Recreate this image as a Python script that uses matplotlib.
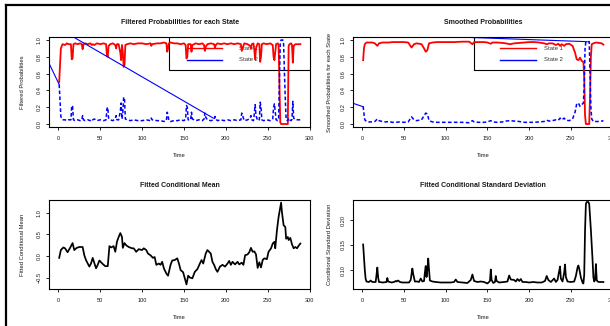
import matplotlib
matplotlib.use("Agg")
import matplotlib.pyplot as plt
from matplotlib.lines import Line2D
from matplotlib.patches import Rectangle

plt.rcParams['font.family'] = ['Liberation Sans', 'DejaVu Sans']

# ---------------- data ----------------
state_labels = ["State 1", "State 2"]
titles = ["Filtered Probabilities for each State", "Smoothed Probabilities",
          "Fitted Conditional Mean", "Fitted Conditional Standard Deviation"]
ylabels = ["Filtered Probabilities", "Smoothed Probabilities for each State",
           "Fitted Conditional Mean", "Conditional Standard Deviation"]
xticks = [0, 50, 100, 150, 200, 250, 300]
prob_yticks = [0.0, 0.2, 0.4, 0.6, 0.8, 1.0]
mean_yticks = [-0.5, 0.0, 0.5, 1.0]
sd_yticks = [0.10, 0.15, 0.20]

filt_t = [
    1, 3, 5, 8, 10, 12, 14, 15, 16, 17,
    18, 20, 23, 26, 28, 29, 30, 32, 35, 38,
    40, 41, 43, 46, 50, 54, 57, 58, 59, 60,
    62, 65, 68, 69, 70, 72, 74, 75, 76, 77,
    78, 79, 80, 82, 86, 90, 95, 100, 105, 110,
    111, 112, 118, 122, 126, 129, 130, 131, 132, 134,
    138, 142, 146, 150, 152, 153, 154, 155, 158, 159,
    160, 164, 168, 172, 174, 175, 176, 178, 182, 186,
    187, 188, 190, 194, 198, 202, 206, 210, 214, 218,
    219, 220, 222, 226, 229, 230, 231, 233, 234, 235,
    236, 238, 240, 241, 242, 243, 245, 249, 253, 256,
    257, 258, 259, 260, 262, 263, 264, 265, 266, 268,
    269, 270, 271, 272, 274, 275, 276, 278, 279, 280,
    281, 283, 286, 289]
filt_s1 = [
    0.50, 0.90, 0.95, 0.94, 0.96, 0.95, 0.95, 0.95, 0.77, 0.78,
    0.95, 0.96, 0.95, 0.96, 0.95, 0.89, 0.95, 0.96, 0.95, 0.96,
    0.94, 0.95, 0.94, 0.96, 0.95, 0.96, 0.95, 0.82, 0.80, 0.93,
    0.95, 0.96, 0.94, 0.90, 0.95, 0.95, 0.85, 0.76, 0.94, 0.86,
    0.68, 0.70, 0.94, 0.95, 0.96, 0.95, 0.96, 0.96, 0.95, 0.96,
    0.93, 0.95, 0.96, 0.96, 0.97, 0.96, 0.86, 0.90, 0.96, 0.97,
    0.96, 0.96, 0.95, 0.96, 0.94, 0.78, 0.80, 0.95, 0.95, 0.86,
    0.94, 0.96, 0.95, 0.96, 0.94, 0.87, 0.92, 0.95, 0.96, 0.95,
    0.91, 0.94, 0.96, 0.95, 0.96, 0.95, 0.96, 0.95, 0.96, 0.95,
    0.87, 0.90, 0.96, 0.95, 0.93, 0.90, 0.95, 0.96, 0.88, 0.77,
    0.90, 0.96, 0.95, 0.74, 0.80, 0.95, 0.96, 0.95, 0.96, 0.94,
    0.80, 0.76, 0.85, 0.95, 0.96, 0.94, 0.50, 0.02, 0.00, 0.00,
    0.00, 0.00, 0.00, 0.00, 0.00, 0.93, 0.95, 0.96, 0.94, 0.73,
    0.93, 0.95, 0.95, 0.95]
filt_s2 = [
    0.47, 0.09, 0.05, 0.05, 0.04, 0.05, 0.05, 0.05, 0.22, 0.21,
    0.05, 0.04, 0.05, 0.04, 0.05, 0.10, 0.05, 0.04, 0.05, 0.04,
    0.06, 0.05, 0.06, 0.04, 0.05, 0.04, 0.05, 0.18, 0.20, 0.07,
    0.05, 0.04, 0.06, 0.10, 0.05, 0.05, 0.15, 0.25, 0.06, 0.14,
    0.32, 0.30, 0.06, 0.05, 0.04, 0.05, 0.04, 0.04, 0.05, 0.04,
    0.07, 0.05, 0.04, 0.04, 0.03, 0.04, 0.14, 0.10, 0.04, 0.03,
    0.04, 0.04, 0.05, 0.04, 0.06, 0.22, 0.20, 0.05, 0.05, 0.14,
    0.06, 0.04, 0.05, 0.04, 0.06, 0.13, 0.08, 0.05, 0.04, 0.05,
    0.09, 0.06, 0.04, 0.05, 0.04, 0.05, 0.04, 0.05, 0.04, 0.05,
    0.13, 0.10, 0.04, 0.05, 0.07, 0.10, 0.05, 0.04, 0.12, 0.23,
    0.10, 0.04, 0.05, 0.26, 0.20, 0.05, 0.04, 0.05, 0.04, 0.06,
    0.20, 0.24, 0.15, 0.05, 0.04, 0.06, 0.50, 0.97, 1.00, 1.00,
    0.95, 0.60, 0.30, 0.05, 0.04, 0.07, 0.05, 0.04, 0.06, 0.27,
    0.07, 0.05, 0.05, 0.05]
# stray solid segments in the filtered panel
filt_extra_a_t = [-11, 1]
filt_extra_a_v = [0.72, 0.47]
filt_extra_b_t = [12, 185]
filt_extra_b_v = [1.07, 0.07]

sm_t = [
    1, 2, 3, 5, 8, 12, 15, 18, 20, 24,
    28, 32, 36, 40, 45, 50, 55, 59, 62, 65,
    68, 71, 74, 76, 78, 80, 84, 90, 100, 110,
    120, 128, 132, 134, 140, 146, 150, 154, 156, 162,
    168, 172, 177, 182, 188, 194, 200, 206, 212, 218,
    221, 224, 228, 232, 235, 237, 239, 242, 244, 248,
    252, 255, 257, 259, 261, 263, 265, 266, 267, 268,
    272, 273, 274, 275, 277, 280, 284, 287, 289]
sm_s1 = [
    0.76, 0.90, 0.95, 0.97, 0.97, 0.97, 0.96, 0.93, 0.96, 0.97,
    0.97, 0.97, 0.975, 0.975, 0.975, 0.975, 0.97, 0.91, 0.95, 0.96,
    0.955, 0.95, 0.90, 0.86, 0.88, 0.96, 0.97, 0.975, 0.975, 0.975,
    0.98, 0.98, 0.95, 0.975, 0.975, 0.975, 0.97, 0.955, 0.97, 0.97,
    0.965, 0.96, 0.95, 0.96, 0.965, 0.97, 0.975, 0.975, 0.97, 0.96,
    0.95, 0.96, 0.96, 0.94, 0.955, 0.93, 0.95, 0.93, 0.95, 0.955,
    0.93, 0.85, 0.77, 0.76, 0.79, 0.75, 0.74, 0.55, 0.10, 0.00,
    0.00, 0.35, 0.80, 0.95, 0.96, 0.97, 0.965, 0.96, 0.945]
sm_s2 = [
    0.21, 0.12, 0.05, 0.03, 0.025, 0.025, 0.03, 0.06, 0.04, 0.03,
    0.025, 0.03, 0.02, 0.02, 0.025, 0.02, 0.025, 0.085, 0.05, 0.04,
    0.045, 0.05, 0.10, 0.13, 0.12, 0.04, 0.025, 0.02, 0.02, 0.02,
    0.02, 0.015, 0.04, 0.025, 0.02, 0.02, 0.025, 0.04, 0.025, 0.02,
    0.025, 0.035, 0.04, 0.035, 0.03, 0.02, 0.02, 0.02, 0.025, 0.03,
    0.045, 0.035, 0.04, 0.05, 0.045, 0.07, 0.05, 0.07, 0.045, 0.04,
    0.06, 0.14, 0.24, 0.25, 0.21, 0.23, 0.25, 0.45, 0.90, 0.98,
    0.98, 0.60, 0.20, 0.06, 0.03, 0.03, 0.03, 0.035, 0.04]
sm_extra_a_t = [-11, 1]
sm_extra_a_v = [0.246, 0.206]
sm_extra_b_t = [130, 269.5]
sm_extra_b_v = [1.03, 0.98]

mean_t = [
    1, 3, 6, 8, 11, 14, 17, 19, 22, 25,
    29, 31, 33, 37, 39, 41, 45, 47, 49, 53,
    56, 59, 61, 63, 66, 68, 70, 72, 74, 76,
    77, 79, 81, 84, 88, 90, 93, 96, 100, 102,
    105, 107, 110, 113, 115, 117, 120, 122, 124, 126,
    129, 131, 134, 136, 139, 142, 144, 146, 149, 151,
    153, 155, 157, 160, 163, 166, 169, 171, 173, 176,
    178, 180, 182, 184, 186, 188, 190, 193, 196, 199,
    202, 204, 206, 208, 211, 214, 216, 219, 221, 223,
    226, 228, 230, 232, 234, 236, 238, 240, 242, 244,
    246, 249, 251, 254, 256, 258, 259, 261, 263, 264,
    266, 267, 269, 271, 272, 274, 275, 277, 279, 281,
    283, 285, 287, 289]
mean_v = [
    -0.04, 0.14, 0.20, 0.18, 0.09, 0.19, 0.30, 0.14, 0.19, 0.21,
    0.21, 0.02, -0.09, -0.24, -0.17, -0.04, -0.28, -0.20, -0.10, -0.18,
    -0.23, -0.23, 0.23, 0.20, 0.23, 0.10, 0.33, 0.44, 0.53, 0.44,
    0.19, 0.30, 0.25, 0.21, 0.18, 0.18, 0.10, 0.16, 0.14, 0.18,
    0.14, 0.06, 0.02, -0.04, -0.02, -0.20, -0.17, -0.20, -0.13, -0.28,
    -0.40, -0.45, -0.20, -0.10, -0.09, -0.05, -0.17, -0.32, -0.37, -0.51,
    -0.65, -0.45, -0.49, -0.51, -0.36, -0.30, -0.17, -0.09, -0.17, 0.06,
    0.14, 0.10, 0.06, -0.13, -0.20, -0.30, -0.36, -0.24, -0.20, -0.24,
    -0.17, -0.11, -0.20, -0.13, -0.19, -0.13, -0.19, -0.15, -0.20, 0.02,
    0.04, 0.09, 0.19, 0.10, 0.11, 0.04, -0.27, -0.14, -0.26, -0.09,
    -0.05, -0.07, 0.10, 0.18, 0.29, 0.33, 0.18, 0.59, 0.90, 1.01,
    1.23, 1.01, 0.71, 0.67, 0.40, 0.44, 0.37, 0.42, 0.27, 0.18,
    0.21, 0.18, 0.24, 0.29]

sd_t = [
    1, 2, 3, 4, 5, 8, 10, 12, 16, 17,
    18, 19, 20, 25, 29, 30, 31, 35, 38, 40,
    41, 43, 45, 48, 52, 56, 58, 60, 61, 63,
    66, 68, 70, 72, 74, 75, 76, 77, 78, 79,
    80, 81, 84, 88, 94, 100, 106, 110, 112, 114,
    120, 126, 130, 132, 134, 138, 142, 146, 150, 153,
    154, 155, 157, 159, 160, 161, 164, 170, 174, 176,
    178, 182, 184, 186, 188, 190, 192, 196, 200, 205,
    210, 215, 219, 221, 223, 226, 230, 232, 234, 236,
    237, 238, 240, 242, 243, 244, 246, 250, 254, 256,
    258, 259, 260, 262, 264, 265, 266, 267, 268, 269,
    271, 272, 274, 276, 277, 278, 279, 280, 281, 282,
    284, 287, 289]
sd_v = [
    0.151, 0.125, 0.100, 0.082, 0.077, 0.076, 0.079, 0.076, 0.076, 0.090,
    0.105, 0.085, 0.076, 0.075, 0.076, 0.084, 0.077, 0.075, 0.076, 0.078,
    0.077, 0.079, 0.076, 0.075, 0.075, 0.075, 0.080, 0.103, 0.092, 0.077,
    0.077, 0.076, 0.083, 0.077, 0.078, 0.095, 0.108, 0.086, 0.100, 0.123,
    0.100, 0.079, 0.077, 0.076, 0.075, 0.075, 0.075, 0.076, 0.081, 0.076,
    0.075, 0.074, 0.080, 0.091, 0.078, 0.076, 0.077, 0.076, 0.073, 0.078,
    0.101, 0.080, 0.074, 0.076, 0.088, 0.078, 0.075, 0.076, 0.077, 0.089,
    0.081, 0.080, 0.077, 0.082, 0.078, 0.082, 0.076, 0.076, 0.075, 0.076,
    0.075, 0.075, 0.078, 0.088, 0.080, 0.076, 0.083, 0.076, 0.080, 0.098,
    0.107, 0.083, 0.077, 0.095, 0.111, 0.086, 0.077, 0.076, 0.077, 0.088,
    0.105, 0.109, 0.103, 0.085, 0.075, 0.073, 0.090, 0.180, 0.232, 0.236,
    0.236, 0.232, 0.180, 0.120, 0.085, 0.077, 0.080, 0.112, 0.080, 0.077,
    0.076, 0.076, 0.076]

# ---------------- layout ----------------
W, H = 610, 326
fig = plt.figure(figsize=(W / 100, H / 100), dpi=100)
fig.patch.set_facecolor('white')


def rect(l, t, r, b):
    return [l / W, 1 - b / H, (r - l) / W, (b - t) / H]


XLIM = (-10.8, 300.5)
TXT = '#1a1a1a'
FS = 4.2
ax1 = fig.add_axes(rect(49.3, 37.3, 310, 126.7))
ax2 = fig.add_axes(rect(353.3, 37.3, 613, 126.7))
ax3 = fig.add_axes(rect(49.3, 200, 310, 289))
ax4 = fig.add_axes(rect(353.3, 200, 613, 289))


def style(ax, title, ylabel, yticks, ylim, ylab_off):
    ax.set_xlim(*XLIM)
    ax.set_ylim(*ylim)
    ax.set_xticks(xticks)
    ax.set_yticks(yticks)
    for s in ax.spines.values():
        s.set_linewidth(0.8)
        s.set_color('black')
        s.set_zorder(6)
    ax.tick_params(direction='out', length=2.4, width=0.6, labelsize=4.1,
                   labelcolor=TXT, pad=4.2)
    ax.tick_params(axis='y', labelrotation=90, pad=3.2)
    for lab in ax.get_yticklabels():
        lab.set_va('center')
    ax.text(0.5, 1.168, title, transform=ax.transAxes, ha='center',
            va='center', fontsize=5.0, fontweight='bold', color=TXT)
    ax.set_xlabel('Time', fontsize=FS, color=TXT)
    ax.xaxis.set_label_coords(0.5, -0.325)
    ax.xaxis.label.set_va('center')
    ax.set_ylabel(ylabel, fontsize=FS, color=TXT)
    ax.yaxis.set_label_coords(ylab_off, 0.5)
    ax.yaxis.label.set_va('center')


def legend_box(ax, x0, xl0, xl1, xt, ybot, rows):
    ax.add_patch(Rectangle((x0, ybot), 1.2 - x0, 1.2 - ybot,
                           transform=ax.transAxes, fill=False,
                           edgecolor='black', linewidth=0.8, zorder=1,
                           clip_on=True))
    for (lab, col), yy in zip(zip(state_labels, ['#ff0000', '#0000ff']), rows):
        ax.add_line(Line2D([xl0, xl1], [yy, yy], transform=ax.transAxes,
                           color=col, linewidth=1.0, zorder=1))
        ax.text(xt, yy, lab, transform=ax.transAxes, fontsize=FS,
                color='#333333', va='center', ha='left', zorder=1)


DASH = (0, (2.4, 1.5))

# Panel 1: filtered probabilities
style(ax1, titles[0], ylabels[0], prob_yticks, (-0.032, 1.032), -0.101)
legend_box(ax1, 0.460, 0.527, 0.661, 0.728, 0.631, [0.875, 0.751])
ax1.plot(filt_t, filt_s1, color='#ff0000', lw=1.3, zorder=3)
ax1.plot(filt_t, filt_s2, color='#0000ff', lw=1.1, ls=DASH, zorder=4)
ax1.plot(filt_extra_a_t, filt_extra_a_v, color='#0000ff', lw=0.8, zorder=4)
ax1.plot(filt_extra_b_t, filt_extra_b_v, color='#0000ff', lw=0.8, zorder=4)

# Panel 2: smoothed probabilities
style(ax2, titles[1], ylabels[1], prob_yticks, (-0.032, 1.032), -0.090)
legend_box(ax2, 0.465, 0.565, 0.702, 0.735, 0.631, [0.875, 0.751])
ax2.plot(sm_t, sm_s1, color='#ff0000', lw=1.3, zorder=3)
ax2.plot(sm_t, sm_s2, color='#0000ff', lw=1.1, ls=DASH, zorder=4)
ax2.plot(sm_extra_a_t, sm_extra_a_v, color='#0000ff', lw=0.8, zorder=4)
ax2.plot(sm_extra_b_t, sm_extra_b_v, color='#0000ff', lw=0.8, zorder=4)

# Panel 3: conditional mean
style(ax3, titles[2], ylabels[2], mean_yticks, (-0.755, 1.29), -0.101)
ax3.plot(mean_t, mean_v, color='black', lw=1.25, zorder=3)

# Panel 4: conditional standard deviation
style(ax4, titles[3], ylabels[3], sd_yticks, (0.062, 0.240), -0.090)
ax4.plot(sd_t, sd_v, color='black', lw=1.25, zorder=3)

# outer frame (cropped at right/bottom)
fx, fy = 6 / W, 1 - 5 / H
fig.add_artist(Line2D([fx, fx], [0, fy], transform=fig.transFigure,
                      color='black', lw=1.6))
fig.add_artist(Line2D([fx, 1.0], [fy, fy], transform=fig.transFigure,
                      color='black', lw=1.6))

fig.savefig('out.png', dpi=100)
